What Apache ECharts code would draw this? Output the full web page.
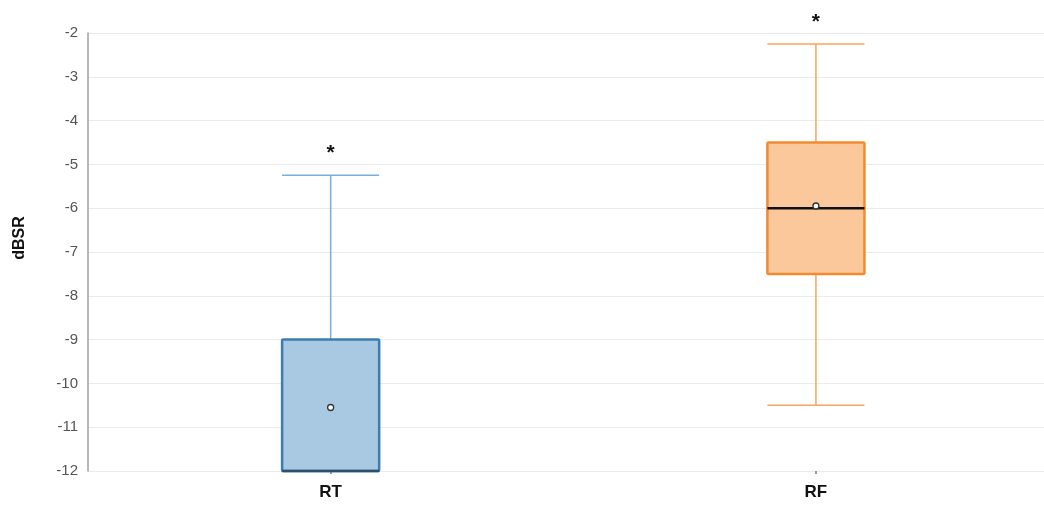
<!DOCTYPE html>
<html>
<head>
<meta charset="utf-8">
<script src="https://cdn.jsdelivr.net/npm/echarts@6/dist/echarts.min.js"></script>
<style>
  html, body { margin: 0; padding: 0; background: #fff; }
  #chart { width: 1044px; height: 512px; }
</style>
</head>
<body>
<div id="chart"></div>
<script>
// Box-plot summary of dBSR per group
const categories   = ['RT', 'RF'];
const whiskerLow   = [-12, -10.5];
const q1           = [-12, -7.5];
const median       = [-12, -6];
const q3           = [-9, -4.5];
const whiskerHigh  = [-5.25, -2.25];
const means        = [-10.55, -5.95];
const significance = ['*', '*'];
const yTicks       = [-12, -11, -10, -9, -8, -7, -6, -5, -4, -3, -2];

const palette = [
  { fill: '#a9c9e2', stroke: '#3b7db3', whisker: '#78afd8', median: '#2c4f6e' },
  { fill: '#fbc89c', stroke: '#f28b30', whisker: '#f6a45e', median: '#111111' }
];

const rows = categories.map((c, i) => [i, whiskerLow[i], q1[i], median[i], q3[i], whiskerHigh[i], means[i]]);

const chart = echarts.init(document.getElementById('chart'), null, { renderer: 'canvas' });

function renderBox(params, api) {
  const i = api.value(0);
  const col = palette[i];
  const half = api.size([0.2, 0])[0] / 2;
  const pLow = api.coord([i, api.value(1)]);
  const pQ1 = api.coord([i, api.value(2)]);
  const pMed = api.coord([i, api.value(3)]);
  const pQ3 = api.coord([i, api.value(4)]);
  const pHigh = api.coord([i, api.value(5)]);
  const pMean = api.coord([i, api.value(6)]);
  const cx = pMed[0];
  const wStyle = { stroke: col.whisker, lineWidth: 1.5 };
  const children = [
    { type: 'line', shape: { x1: cx, y1: pQ3[1], x2: cx, y2: pHigh[1] }, style: wStyle },
    { type: 'line', shape: { x1: cx - half, y1: pHigh[1], x2: cx + half, y2: pHigh[1] }, style: wStyle },
    { type: 'line', shape: { x1: cx, y1: pQ1[1], x2: cx, y2: pLow[1] }, style: wStyle },
    { type: 'line', shape: { x1: cx - half, y1: pLow[1], x2: cx + half, y2: pLow[1] }, style: wStyle },
    {
      type: 'rect',
      shape: { x: cx - half, y: pQ3[1], width: half * 2, height: pQ1[1] - pQ3[1], r: 1 },
      style: { fill: col.fill, stroke: col.stroke, lineWidth: 2.5 }
    },
    { type: 'line', shape: { x1: cx - half, y1: pMed[1], x2: cx + half, y2: pMed[1] }, style: { stroke: col.median, lineWidth: 2.5 } },
    { type: 'circle', shape: { cx: pMean[0], cy: pMean[1], r: 3 }, style: { fill: '#ffffff', stroke: '#333333', lineWidth: 1.3 } },
    {
      type: 'text',
      style: {
        x: cx, y: pHigh[1] - 22, text: significance[i],
        fill: '#111', font: 'bold 21px "Liberation Sans", Arial, sans-serif',
        align: 'center', verticalAlign: 'middle'
      }
    }
  ];
  return { type: 'group', children };
}

chart.setOption({
  animation: false,
  backgroundColor: '#ffffff',
  grid: { left: 88, right: 0, top: 33, bottom: 41, containLabel: false },
  xAxis: {
    type: 'value',
    min: -0.5,
    max: 1.47,
    splitLine: { show: false },
    axisLine: { show: false, onZero: false },
    axisTick: { show: true, customValues: [0, 1], length: 3, lineStyle: { color: '#9a9a9a', width: 2 } },
    axisLabel: {
      customValues: [0, 1],
      formatter: v => categories[Math.round(v)],
      margin: 13,
      color: '#111',
      fontSize: 17,
      fontWeight: 'bold',
      fontFamily: '"Liberation Sans", Arial, sans-serif'
    }
  },
  yAxis: {
    type: 'value',
    min: yTicks[0],
    max: yTicks[yTicks.length - 1],
    interval: 1,
    axisLine: { show: true, onZero: false, lineStyle: { color: '#a0a0a0', width: 1.5 } },
    axisTick: { show: false },
    splitLine: { show: true, lineStyle: { color: '#ebebeb', width: 1 } },
    axisLabel: {
      margin: 10,
      color: '#555',
      fontSize: 15,
      fontFamily: '"Liberation Sans", Arial, sans-serif'
    }
  },
  graphic: [{
    type: 'text',
    x: 20, y: 238,
    rotation: Math.PI / 2,
    style: {
      text: 'dBSR',
      fill: '#111',
      font: 'bold 16px "Liberation Sans", Arial, sans-serif',
      align: 'center',
      verticalAlign: 'middle'
    }
  }],
  series: [{
    type: 'custom',
    renderItem: renderBox,
    clip: false,
    encode: { x: 0, y: [1, 2, 3, 4, 5, 6] },
    data: rows
  }]
});
</script>
</body>
</html>
